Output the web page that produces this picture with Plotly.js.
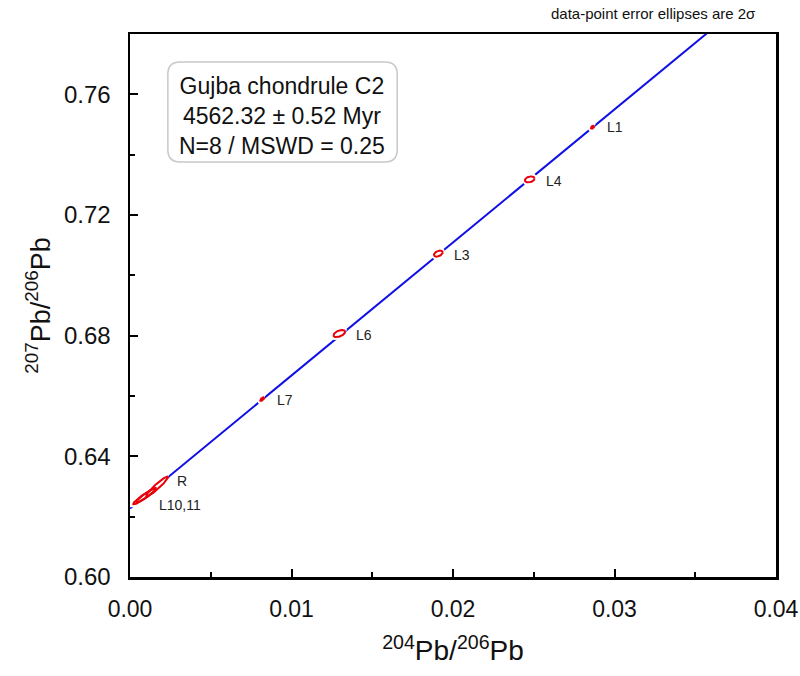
<!DOCTYPE html>
<html>
<head>
<meta charset="utf-8">
<script src="https://cdn.plot.ly/plotly-3.0.1.min.js"></script>
<style>html,body{margin:0;padding:0;background:#fff;}#chart{width:800px;height:676px;}</style>
</head>
<body>
<div id="chart"></div>
<script>
// ---- data ----
var pointNames = ['L1', 'L4', 'L3', 'L6', 'L7', 'R', 'L10', 'L11'];
var pointLabels = ['L1', 'L4', 'L3', 'L6', 'L7', 'R', 'L10,11', ''];
var pb204_206 = [0.02864, 0.02475, 0.01909, 0.01296, 0.00819, 0.00168, 0.00092, 0.00100];
var pb207_206 = [0.7491, 0.7318, 0.7072, 0.6807, 0.6590, 0.6300, 0.6268, 0.6271];
var err2sX = [0.00010, 0.00030, 0.00027, 0.00036, 0.00013, 0.00068, 0.00072, 0.00060];
var err2sY = [0.0005, 0.0010, 0.0010, 0.0012, 0.0006, 0.0033, 0.0027, 0.0023];
var errRho = [0.5, 0.3, 0.4, 0.5, 0.7, 0.95, 0.95, 0.94];
var filledDot = [true, false, false, false, true, false, false, false];
var isochronIntercept = 0.6227;
var isochronSlope = 4.41;
var isochronX = [0, 0.04];
var xTickVals = [0, 0.01, 0.02, 0.03, 0.04];
var yTickVals = [0.60, 0.64, 0.68, 0.72, 0.76];
var boxLines = ['Gujba chondrule C2', '4562.32 \u00b1 0.52 Myr', 'N=8 / MSWD = 0.25'];

// label offsets (pixels) - style only
var labelShiftX = [12, 14, 14, 15, 13, 18, 12, 0];
var labelShiftY = [0, -2, -1, -1, -1, 6, -9, 0];

var FONT = 'Liberation Sans, Arial, Helvetica, sans-serif';
var RED = '#e8000b';
var BLUE = '#1010e6';

var traces = [];
traces.push({
  x: isochronX,
  y: isochronX.map(function (v) { return isochronIntercept + isochronSlope * v; }),
  mode: 'lines', line: {color: BLUE, width: 2}, hoverinfo: 'skip', showlegend: false
});

function ellipse(i) {
  var xs = [], ys = [], n = 90;
  var r = errRho[i], q = Math.sqrt(1 - r * r);
  for (var k = 0; k <= n; k++) {
    var t = 2 * Math.PI * k / n;
    xs.push(pb204_206[i] + err2sX[i] * Math.cos(t));
    ys.push(pb207_206[i] + err2sY[i] * (r * Math.cos(t) + q * Math.sin(t)));
  }
  return {x: xs, y: ys};
}

// white halos (break the isochron line around each ellipse)
for (var i = 0; i < pointNames.length; i++) {
  var e = ellipse(i);
  traces.push({x: e.x, y: e.y, mode: 'lines', line: {color: '#ffffff', width: 6},
    hoverinfo: 'skip', showlegend: false});
}
for (var j = 0; j < pointNames.length; j++) {
  var e2 = ellipse(j);
  var tr = {x: e2.x, y: e2.y, mode: 'lines', name: pointNames[j],
    line: {color: RED, width: 2}, showlegend: false};
  if (filledDot[j]) { tr.fill = 'toself'; tr.fillcolor = RED; }
  traces.push(tr);
}

var annotations = [];
for (var k = 0; k < pointNames.length; k++) {
  if (!pointLabels[k]) continue;
  annotations.push({
    x: pb204_206[k], y: pb207_206[k], xref: 'x', yref: 'y',
    text: pointLabels[k], showarrow: false, xanchor: 'left', yanchor: 'middle',
    xshift: labelShiftX[k], yshift: labelShiftY[k],
    font: {family: FONT, size: 14, color: '#222'}
  });
}
annotations.push({
  xref: 'paper', yref: 'paper', x: 0.236, y: 0.849, xanchor: 'center', yanchor: 'middle',
  text: boxLines.join('<br>'), showarrow: false, align: 'center',
  font: {family: FONT, size: 23, color: '#111'}
});
annotations.push({
  xref: 'paper', yref: 'paper', x: 0.81, y: 1.037, xanchor: 'center', yanchor: 'middle',
  text: 'data-point error ellipses are 2\u03c3', showarrow: false,
  font: {family: FONT, size: 15, color: '#111'}
});

// rounded box (paper coords)
var bx0 = 0.0586, bx1 = 0.4136, by0 = 0.7643, by1 = 0.9484, rx = 0.019, ry = 0.0225;
var boxPath = 'M ' + (bx0 + rx) + ',' + by0 + ' L ' + (bx1 - rx) + ',' + by0 +
  ' Q ' + bx1 + ',' + by0 + ' ' + bx1 + ',' + (by0 + ry) +
  ' L ' + bx1 + ',' + (by1 - ry) + ' Q ' + bx1 + ',' + by1 + ' ' + (bx1 - rx) + ',' + by1 +
  ' L ' + (bx0 + rx) + ',' + by1 + ' Q ' + bx0 + ',' + by1 + ' ' + bx0 + ',' + (by1 - ry) +
  ' L ' + bx0 + ',' + (by0 + ry) + ' Q ' + bx0 + ',' + by0 + ' ' + (bx0 + rx) + ',' + by0 + ' Z';

var layout = {
  width: 800, height: 676,
  margin: {l: 130, r: 24, t: 34, b: 99},
  paper_bgcolor: '#ffffff', plot_bgcolor: '#ffffff',
  font: {family: FONT, color: '#111'},
  showlegend: false,
  xaxis: {
    range: [0, 0.0400001], tickvals: xTickVals, tickformat: '.2f',
    ticks: 'inside', ticklen: 8, tickwidth: 2, tickcolor: '#000',
    minor: {dtick: 0.005, tick0: 0, ticks: 'inside', ticklen: 5, tickwidth: 2, tickcolor: '#000', showgrid: false},
    showline: true, linecolor: '#000', linewidth: 2.5, mirror: true,
    showgrid: false, zeroline: false,
    tickfont: {family: FONT, size: 23, color: '#111'}, ticklabelstandoff: 10,
    title: {text: '<sup>204</sup>Pb/<sup>206</sup>Pb', font: {family: FONT, size: 28, color: '#111'}, standoff: 20}
  },
  yaxis: {
    range: [0.60, 0.7800001], tickvals: yTickVals, tickformat: '.2f',
    ticks: 'inside', ticklen: 8, tickwidth: 2, tickcolor: '#000',
    minor: {dtick: 0.02, tick0: 0.6, ticks: 'inside', ticklen: 5, tickwidth: 2, tickcolor: '#000', showgrid: false},
    showline: true, linecolor: '#000', linewidth: 2.5, mirror: true,
    showgrid: false, zeroline: false,
    tickfont: {family: FONT, size: 24, color: '#111'}, ticklabelstandoff: 12,
    title: {text: '<sup>207</sup>Pb/<sup>206</sup>Pb', font: {family: FONT, size: 27, color: '#111'}, standoff: 6}
  },
  shapes: [{type: 'path', xref: 'paper', yref: 'paper', path: boxPath,
    line: {color: '#c8c8c8', width: 1.5}, fillcolor: 'rgba(255,255,255,1)', layer: 'above'}],
  annotations: annotations
};

Plotly.newPlot('chart', traces, layout, {displayModeBar: false, staticPlot: true});
</script>
</body>
</html>
